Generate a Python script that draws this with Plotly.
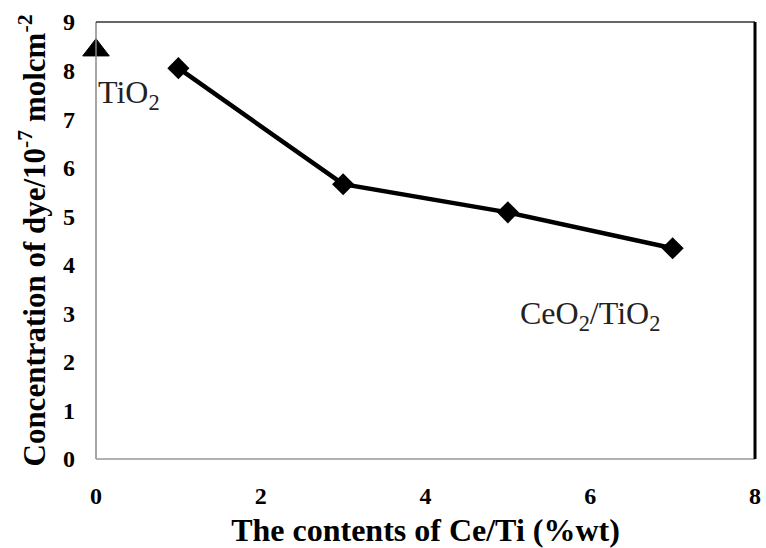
import plotly.graph_objects as go

# Ce/Ti loading (% wt) and adsorbed dye concentration (10^-7 mol cm^-2)
ce_ti_content = [1, 3, 5, 7]
dye_conc_ceo2_tio2 = [8.05, 5.66, 5.08, 4.34]

# pure TiO2 reference point
tio2_content = [0]
dye_conc_tio2 = [8.42]

x_ticks = [0, 2, 4, 6, 8]
y_ticks = [0, 1, 2, 3, 4, 5, 6, 7, 8, 9]

serif = "Times New Roman, DejaVu Serif, serif"

fig = go.Figure()

fig.add_trace(go.Scatter(
    x=ce_ti_content, y=dye_conc_ceo2_tio2,
    mode="lines+markers",
    line=dict(color="black", width=4.5),
    marker=dict(symbol="diamond", size=17, color="black"),
    cliponaxis=False,
    showlegend=False,
))

fig.add_trace(go.Scatter(
    x=tio2_content, y=dye_conc_tio2,
    mode="markers",
    marker=dict(symbol="triangle-up", size=23, color="black",
                line=dict(color="black", width=1)),
    cliponaxis=False,
    showlegend=False,
))

# plot frame: thin grey left/bottom, thin black top, heavy black right
fig.add_shape(type="line", xref="paper", yref="paper", x0=0, x1=0, y0=0, y1=1,
              line=dict(color="#888888", width=1.5))
fig.add_shape(type="line", xref="paper", yref="paper", x0=0, x1=1, y0=0, y1=0,
              line=dict(color="#999999", width=1.5))
fig.add_shape(type="line", xref="paper", yref="paper", x0=0, x1=1, y0=1, y1=1,
              line=dict(color="#333333", width=1.5))
fig.add_shape(type="line", xref="paper", yref="paper", x0=1, x1=1, y0=0, y1=1,
              line=dict(color="black", width=3))

fig.add_annotation(x=0, y=7.5, text="TiO<sub>2</sub>", showarrow=False,
                   xanchor="left", yanchor="middle",
                   font=dict(family=serif, size=32, color="#222222"))
fig.add_annotation(x=5.12, y=2.95, text="CeO<sub>2</sub>/TiO<sub>2</sub>", showarrow=False,
                   xanchor="left", yanchor="middle",
                   font=dict(family=serif, size=32, color="#222222"))

fig.update_layout(
    width=766, height=548,
    margin=dict(l=96, r=5, t=22, b=88),
    paper_bgcolor="white", plot_bgcolor="white",
    font=dict(family=serif, color="black"),
    xaxis=dict(
        range=[0, 8], tickvals=x_ticks, showgrid=False, zeroline=False,
        showline=False, ticks="",
        ticklabelstandoff=20, ticklabeloverflow="allow",
        tickfont=dict(family=serif, size=24, color="black", weight="bold"),
        title=dict(text="<b>The contents of Ce/Ti (%wt)</b>",
                   font=dict(family=serif, size=32, color="black"), standoff=12),
    ),
    yaxis=dict(
        range=[0, 9], tickvals=y_ticks, showgrid=False, zeroline=False,
        showline=False, ticks="",
        ticklabelstandoff=20,
        tickfont=dict(family=serif, size=24, color="black", weight="bold"),
        title=dict(text="<b>Concentration of dye/10<sup>-7</sup> molcm<sup>-2</sup></b>",
                   font=dict(family=serif, size=31, color="black"), standoff=8),
    ),
)

fig.write_html("out.html")
